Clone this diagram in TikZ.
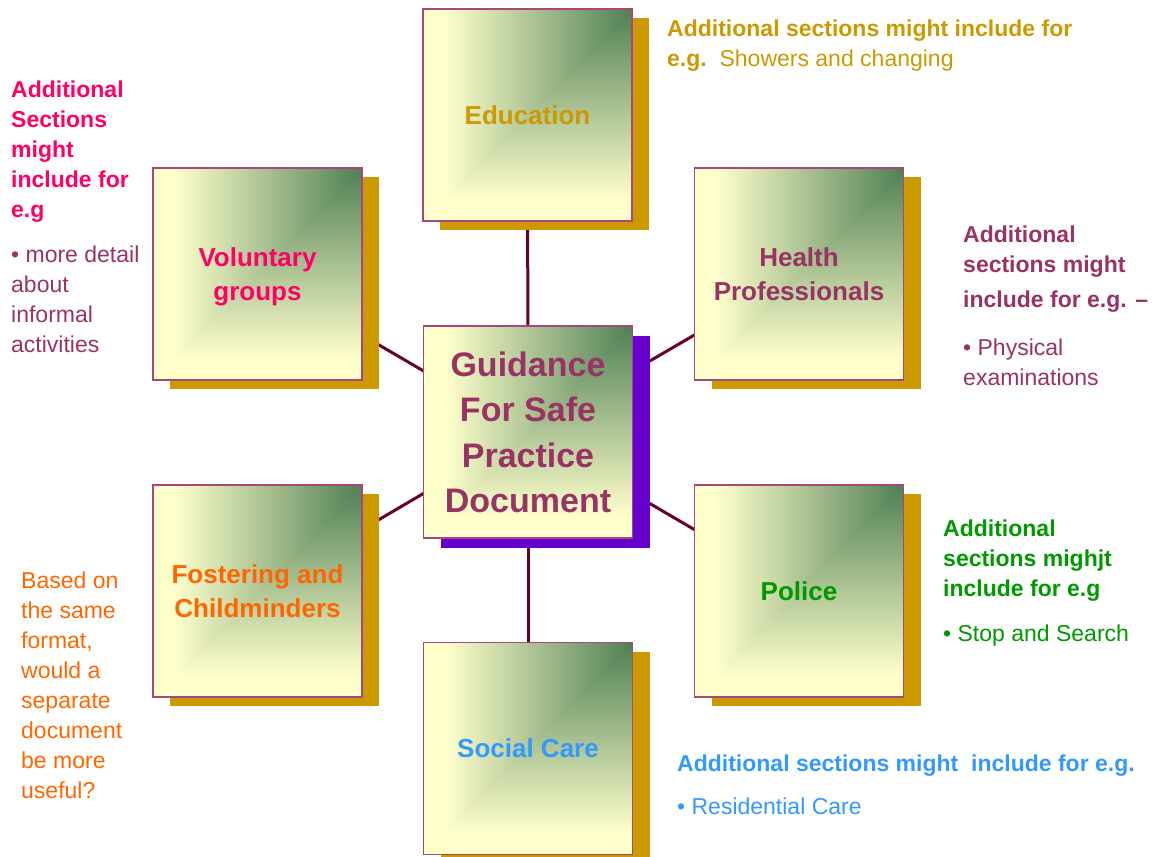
\documentclass[tikz,border=0pt]{standalone}
\usepackage{fontspec}
\setmainfont{Liberation Sans}
\usetikzlibrary{shadows}
\pgfdeclarelayer{background}
\pgfsetlayers{background,main}
\definecolor{goldc}{HTML}{CC9900}
\definecolor{purplec}{HTML}{6600CC}
\definecolor{maroonc}{HTML}{993366}
\definecolor{pinkc}{HTML}{FF0066}
\definecolor{orangec}{HTML}{FF6600}
\definecolor{greenc}{HTML}{009900}
\definecolor{bluec}{HTML}{3399FF}
\definecolor{linec}{HTML}{660033}
\definecolor{borderc}{HTML}{A8477A}
\pgfdeclarefunctionalshading{boxshade}{\pgfpoint{0bp}{0bp}}{\pgfpoint{100bp}{100bp}}{}{75 exch sub exch 75 exch sub 2 copy lt {exch} if pop 45 div dup 1 gt {pop 1} if dup 0 lt {pop 0} if dup 0.69 mul 0.31 add exch dup 0.5 mul 0.5 add exch 0.47 mul 0.33 add}
\tikzset{
  box/.style={rectangle, minimum width=209pt, minimum height=212pt, inner sep=0pt,
    draw=borderc, line width=1.3pt, shade, shading=boxshade, align=center, text depth=0pt,
    font=\fontsize{26}{34}\selectfont\bfseries},
  goldshadow/.style={general shadow={fill=goldc, shadow xshift=17pt, shadow yshift=-9pt}},
  purpleshadow/.style={general shadow={fill=purplec, shadow xshift=17pt, shadow yshift=-10pt}},
  conn/.style={draw=linec, line width=3pt},
  note/.style={anchor=base west, inner sep=0pt, align=left, font=\fontsize{23}{30}\selectfont},
}
\begin{document}
\begin{tikzpicture}[x=1pt,y=-1pt]
\useasboundingbox (0,0) rectangle (1158,856);

\node[box, goldshadow, text=goldc] (edu) at (527.5,115) {Education};
\node[box, purpleshadow, text=maroonc, font=\fontsize{34}{45.5}\selectfont\bfseries] (guide) at (528,432) {Guidance\\For Safe\\Practice\\Document};
\node[box, goldshadow, text=pinkc] (vol) at (257.5,274) {Voluntary\\groups};
\node[box, goldshadow, text=maroonc] (health) at (799,274) {Health\\Professionals};
\node[box, goldshadow, text=orangec] (fost) at (257.5,591) {Fostering and\\Childminders};
\node[box, goldshadow, text=greenc] (police) at (799,591) {Police};
\node[box, goldshadow, text=bluec] (social) at (528,748.5) {Social Care};

\begin{pgfonlayer}{background}
\fill[white] (0,0) rectangle (1158,856);
\draw[conn] (guide.center) -- (edu.center);
\draw[conn] (guide.center) -- (social.center);
\draw[conn] (guide.center) -- (vol.center);
\draw[conn] (guide.center) -- (health.center);
\draw[conn] (guide.center) -- (fost.center);
\draw[conn] (guide.center) -- (police.center);
\end{pgfonlayer}

\node[note, text=goldc] (noteedu) at (667,67) {\textbf{Additional sections might include for}\\\textbf{e.g.}\ \ Showers and changing};

\node[note, text=pinkc] (notevol) at (11,352) {\textbf{Additional}\\\textbf{Sections}\\\textbf{might}\\\textbf{include for}\\\textbf{e.g}\\[15pt]{\color{maroonc}• more detail}\\{\color{maroonc}about}\\{\color{maroonc}informal}\\{\color{maroonc}activities}};

\node[note, text=maroonc] (notehealth) at (963,385) {\textbf{Additional}\\\textbf{sections might}\\[5pt]\textbf{include for e.g. –}\\[18pt]• Physical\\examinations};

\node[note, text=greenc] (notepolice) at (943,641) {\textbf{Additional}\\\textbf{sections mighjt}\\\textbf{include for e.g}\\[15pt]• Stop and Search};

\node[note, text=bluec] (notesocial) at (677,814) {\textbf{Additional sections might\ \ include for e.g.}\\[13pt]• Residential Care};

\node[note, text=orangec] (notefost) at (21,798) {Based on\\the same\\format,\\would a\\separate\\document\\be more\\useful?};
\end{tikzpicture}
\end{document}
